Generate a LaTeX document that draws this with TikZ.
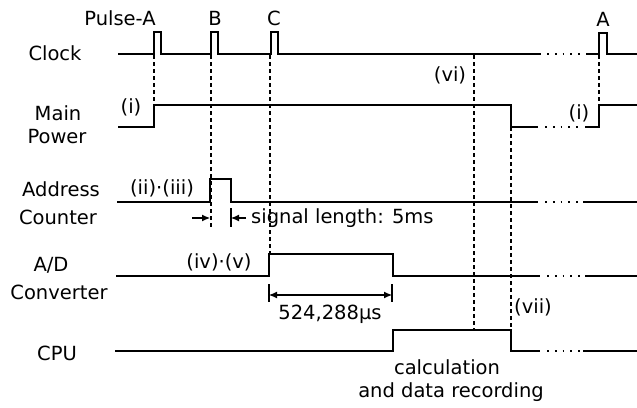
\documentclass[tikz,border=0pt]{standalone}
\usepackage{fontspec}
\setmainfont{DejaVu Sans}
\usetikzlibrary{arrows.meta}
\tikzset{
  wave/.style={line width=1.8pt, line join=miter},
  gap/.style={line width=1.8pt, dash pattern=on 1.8pt off 6pt},
  guide/.style={line width=1.1pt, dash pattern=on 4pt off 3pt},
  dimline/.style={line width=1.1pt},
  lbl/.style={font=\fontsize{19.5}{22}\selectfont, inner sep=0pt},
  tip/.style={-{Latex[length=8pt,width=7pt]}},
}
\begin{document}
\begin{tikzpicture}[x=1pt,y=-1pt]
\useasboundingbox (0,0) rectangle (637,407);

% signal names
\node[lbl] (nclock) at (55,53) {Clock};
\node[lbl] (nmain)  at (58,113) {Main};
\node[lbl] (npower) at (57,137) {Power};
\node[lbl] (naddr)  at (61,189) {Address};
\node[lbl] (ncount) at (58,217) {Counter};
\node[lbl] (nad)    at (51,265) {A/D};
\node[lbl] (nconv)  at (59,292) {Converter};
\node[lbl] (ncpu)   at (57,353) {CPU};

% pulse names
\node[lbl] (pa) at (120,18) {Pulse-A};
\node[lbl] (pb) at (215,18) {B};
\node[lbl] (pc) at (274,18) {C};
\node[lbl] (pa2) at (603,19) {A};

% clock
\draw[wave] (118,54) -- (154,54) -- (154,32) -- (161,32) -- (161,54)
  -- (211,54) -- (211,32) -- (218,32) -- (218,54)
  -- (271,54) -- (271,32) -- (278,32) -- (278,54) -- (541,54);
\draw[gap] (547,54) -- (582,54);
\draw[wave] (586,54) -- (599,54) -- (599,33) -- (607,33) -- (607,54) -- (637,54);

% main power
\draw[wave] (118,127) -- (154,127) -- (154,105) -- (511,105) -- (511,127) -- (538,127);
\draw[gap] (545,127) -- (582,127);
\draw[wave] (585,127) -- (599,127) -- (599,105) -- (637,105);

% address counter
\draw[wave] (117,202) -- (210,202) -- (210,179) -- (231,179) -- (231,202) -- (538,202);
\draw[gap] (545,202) -- (580,202);
\draw[wave] (583,202) -- (637,202);

% A/D converter
\draw[wave] (116,276) -- (269,276) -- (269,254) -- (393,254) -- (393,276) -- (540,276);
\draw[gap] (547,276) -- (582,276);
\draw[wave] (585,276) -- (637,276);

% CPU
\draw[wave] (115,351) -- (393,351) -- (393,330) -- (511,330) -- (511,351) -- (540,351);
\draw[gap] (547,351) -- (580,351);
\draw[wave] (583,351) -- (637,351);

% timing guides
\draw[guide] (154,55) -- (154,105);
\draw[guide] (211,55) -- (211,227);
\draw[guide] (270,55) -- (270,254);
\draw[guide] (474,55) -- (474,330);
\draw[guide] (511,127) -- (511,330);
\draw[guide] (599,55) -- (599,105);

% signal length marker
\coordinate (sl1) at (192,218);
\coordinate (sl2) at (210,218);
\coordinate (sr1) at (246,218);
\coordinate (sr2) at (231,218);
\draw[dimline] (231,208) -- (231,227);
\draw[dimline,tip] (sl1) -- (sl2);
\draw[dimline,tip] (sr1) -- (sr2);
\node[lbl,anchor=west] (nsig) at (251,218) {signal length: 5ms};

% conversion time marker
\coordinate (cl) at (269,295);
\coordinate (cr) at (392,295);
\draw[dimline] (269,284) -- (269,302);
\draw[dimline] (392,284) -- (392,302);
\draw[dimline,{Latex[length=8pt,width=7pt]}-{Latex[length=8pt,width=7pt]}] (cl) -- (cr);
\node[lbl] (nconvt) at (330,314) {524,288µs};

% step labels
\node[lbl] (s1) at (131,107) {(i)};
\node[lbl] (s1b) at (579,113) {(i)};
\node[lbl] (s23) at (162,188) {(ii)·(iii)};
\node[lbl] (s45) at (219,262) {(iv)·(v)};
\node[lbl] (s6) at (450,75) {(vi)};
\node[lbl] (s7) at (533,307) {(vii)};

\node[lbl] (ncalc) at (447,367) {calculation};
\node[lbl] (nrec) at (451,392) {and data recording};
\end{tikzpicture}
\end{document}
